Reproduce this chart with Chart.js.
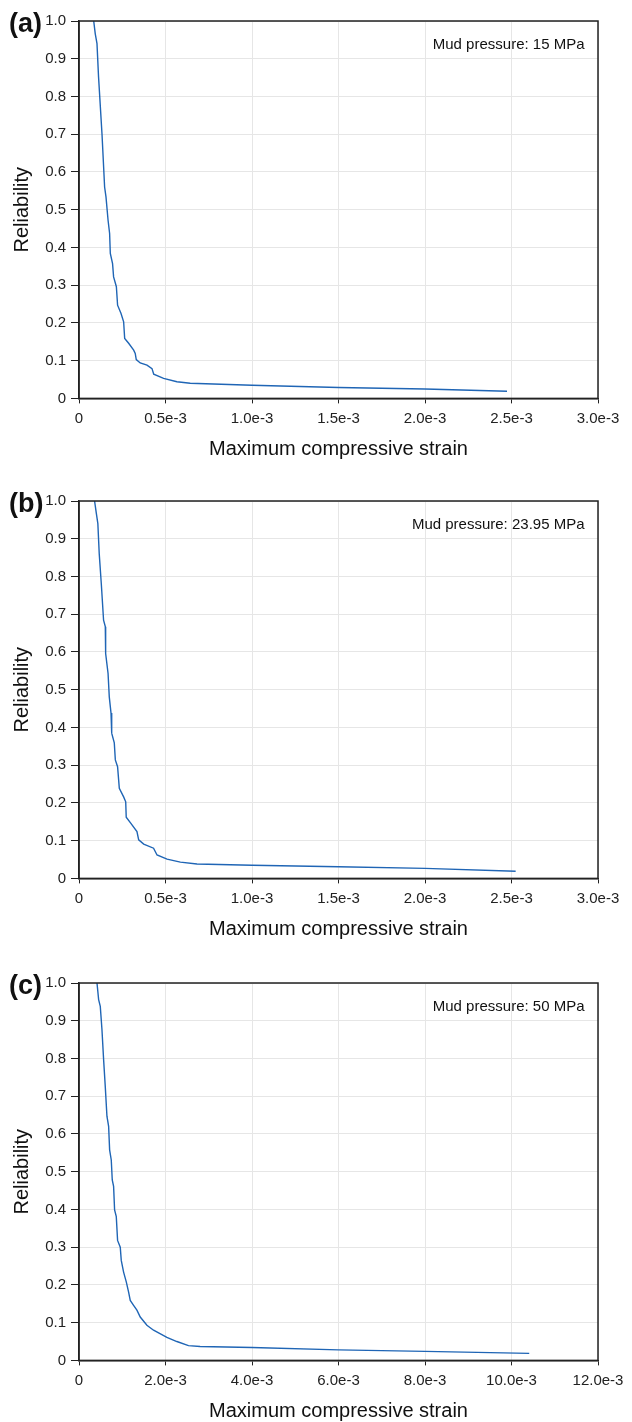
<!DOCTYPE html>
<html>
<head>
<meta charset="utf-8">
<script src="https://cdn.jsdelivr.net/npm/chart.js@4.4.0/dist/chart.umd.min.js"></script>
<style>
    html, body { margin: 0; padding: 0; background: #fff; overflow: hidden; }
    body { width: 632px; height: 1422px; position: relative; font-family: 'Liberation Sans', Arial, sans-serif; }
    .panel { position: absolute; left: 0; width: 632px; height: 480px; }
    .panel canvas { position: absolute; left: 0; top: 0; }
    .tag { position: absolute; left: 9px; top: 8px; font-size: 27px; line-height: 31px; font-weight: bold; color: #111; }
</style>
</head>
<body>
<div class="panel" style="top: 0px;"><canvas id="chart-a" width="632" height="480"></canvas><div class="tag">(a)</div></div>
<div class="panel" style="top: 480px;"><canvas id="chart-b" width="632" height="480"></canvas><div class="tag">(b)</div></div>
<div class="panel" style="top: 962px;"><canvas id="chart-c" width="632" height="480"></canvas><div class="tag">(c)</div></div>
<script>
// strain values (x), reliability (y)
const strainA = [0.085e-3, 0.094e-3, 0.104e-3, 0.113e-3, 0.133e-3, 0.148e-3, 0.156e-3, 0.168e-3, 0.177e-3, 0.181e-3,
    0.194e-3, 0.200e-3, 0.216e-3, 0.223e-3, 0.243e-3, 0.258e-3, 0.264e-3, 0.287e-3, 0.316e-3, 0.325e-3, 0.331e-3,
    0.354e-3, 0.393e-3, 0.422e-3, 0.432e-3, 0.489e-3, 0.566e-3, 0.643e-3, 1.0e-3, 1.5e-3, 2.0e-3, 2.474e-3];
const reliabilityA = [1.0, 0.966, 0.94, 0.852, 0.70, 0.56, 0.534, 0.472, 0.437, 0.384,
    0.357, 0.322, 0.296, 0.247, 0.225, 0.203, 0.159, 0.146, 0.128, 0.119, 0.103,
    0.094, 0.088, 0.079, 0.064, 0.053, 0.044, 0.040, 0.035, 0.029, 0.025, 0.019];

const strainB = [0.090e-3, 0.100e-3, 0.109e-3, 0.117e-3, 0.129e-3, 0.142e-3, 0.152e-3, 0.154e-3, 0.168e-3, 0.175e-3,
    0.185e-3, 0.189e-3, 0.204e-3, 0.210e-3, 0.223e-3, 0.233e-3, 0.258e-3, 0.270e-3, 0.273e-3, 0.300e-3, 0.335e-3,
    0.345e-3, 0.374e-3, 0.431e-3, 0.451e-3, 0.509e-3, 0.586e-3, 0.682e-3, 1.0e-3, 1.5e-3, 2.0e-3, 2.524e-3];
const reliabilityB = [1.0, 0.968, 0.94, 0.86, 0.78, 0.684, 0.667, 0.596, 0.543, 0.481,
    0.438, 0.385, 0.359, 0.314, 0.296, 0.239, 0.216, 0.203, 0.162, 0.146, 0.124,
    0.102, 0.091, 0.080, 0.062, 0.051, 0.043, 0.038, 0.035, 0.031, 0.0265, 0.019];

const strainC = [0.416e-3, 0.454e-3, 0.492e-3, 0.531e-3, 0.569e-3, 0.607e-3, 0.646e-3, 0.685e-3, 0.708e-3, 0.746e-3,
    0.769e-3, 0.800e-3, 0.823e-3, 0.862e-3, 0.892e-3, 0.954e-3, 0.977e-3, 1.031e-3, 1.093e-3, 1.147e-3, 1.185e-3,
    1.262e-3, 1.339e-3, 1.416e-3, 1.570e-3, 1.724e-3, 2.032e-3, 2.263e-3, 2.531e-3, 2.80e-3, 4.0e-3, 6.0e-3,
    8.0e-3, 10.41e-3];
const reliabilityC = [1.0, 0.956, 0.938, 0.876, 0.797, 0.726, 0.647, 0.620, 0.558, 0.531,
    0.478, 0.461, 0.399, 0.381, 0.318, 0.300, 0.265, 0.234, 0.208, 0.181, 0.159,
    0.146, 0.133, 0.115, 0.093, 0.080, 0.061, 0.050, 0.039, 0.037, 0.034, 0.028,
    0.024, 0.0186];

const mudPressures = ['Mud pressure: 15 MPa', 'Mud pressure: 23.95 MPa', 'Mud pressure: 50 MPa'];
const xMax = [3.0e-3, 3.0e-3, 12.0e-3];
const xStep = [0.5e-3, 0.5e-3, 2.0e-3];

const FONT = "'Liberation Sans', Arial, sans-serif";
const LINE_COLOR = '#1f65b5';
const AXIS_COLOR = '#222';

// frame around the plot area + the mud pressure note
const framePlugin = {
    id: 'frame',
    afterDraw(chart) {
        const { ctx, chartArea } = chart;
        ctx.save();
        ctx.strokeStyle = AXIS_COLOR;
        ctx.lineWidth = 1.5;
        ctx.strokeRect(chartArea.left, chartArea.top, chartArea.right - chartArea.left, chartArea.bottom - chartArea.top);
        ctx.fillStyle = '#111';
        ctx.font = '15px ' + FONT;
        ctx.textAlign = 'right';
        ctx.textBaseline = 'middle';
        ctx.fillText(chart.options.plugins.frame.note, chartArea.right - 13.5, chartArea.top + 24);
        ctx.restore();
    }
};

function strainLabel(v) {
    if (Math.abs(v) < 1e-12) return '0';
    return (v * 1000).toFixed(1) + 'e-3';
}

function renderPanel(id, xs, ys, idx) {
    const ctx = document.getElementById(id).getContext('2d');
    const points = xs.map((x, i) => ({ x: x, y: ys[i] }));

    return new Chart(ctx, {
        type: 'line',
        data: {
            datasets: [{
                data: points,
                borderColor: LINE_COLOR,
                borderWidth: 1.4,
                pointRadius: 0,
                tension: 0,
                fill: false
            }]
        },
        options: {
            responsive: false,
            animation: false,
            devicePixelRatio: 1,
            layout: { padding: { top: 21, right: 34, left: 0, bottom: 0 } },
            plugins: {
                legend: { display: false },
                tooltip: { enabled: false },
                frame: { note: mudPressures[idx] }
            },
            scales: {
                x: {
                    type: 'linear',
                    min: 0,
                    max: xMax[idx],
                    afterFit: (s) => { s.height = 81.6; },
                    ticks: {
                        stepSize: xStep[idx],
                        color: '#222',
                        font: { family: FONT, size: 15 },
                        padding: 6,
                        maxRotation: 0,
                        callback: (v) => strainLabel(v)
                    },
                    grid: { color: '#e6e6e6', tickColor: AXIS_COLOR, tickLength: 5 },
                    border: { color: AXIS_COLOR, width: 1.5 },
                    title: {
                        display: true,
                        text: 'Maximum compressive strain',
                        color: '#111',
                        font: { family: FONT, size: 20 },
                        padding: { top: 0, bottom: 19 }
                    }
                },
                y: {
                    min: 0,
                    max: 1.0,
                    afterFit: (s) => { s.width = 79; },
                    ticks: {
                        stepSize: 0.1,
                        color: '#222',
                        font: { family: FONT, size: 15 },
                        padding: 5,
                        callback: (v) => Math.abs(v) < 1e-9 ? '0' : v.toFixed(1)
                    },
                    grid: { color: '#e6e6e6', tickColor: AXIS_COLOR, tickLength: 8 },
                    border: { color: AXIS_COLOR, width: 1.5 },
                    title: {
                        display: true,
                        text: 'Reliability',
                        color: '#111',
                        font: { family: FONT, size: 20 },
                        padding: { top: 10, bottom: 0 }
                    }
                }
            }
        },
        plugins: [framePlugin]
    });
}

renderPanel('chart-a', strainA, reliabilityA, 0);
renderPanel('chart-b', strainB, reliabilityB, 1);
renderPanel('chart-c', strainC, reliabilityC, 2);
</script>
</body>
</html>
